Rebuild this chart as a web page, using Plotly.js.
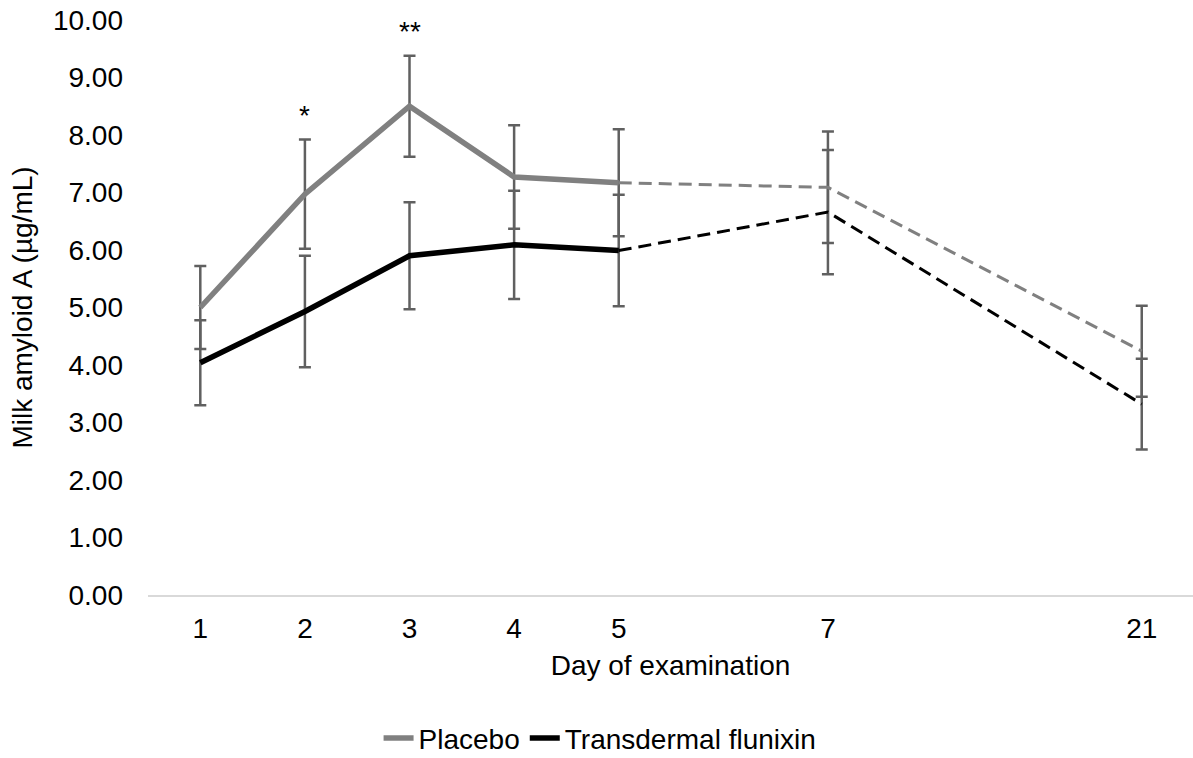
<!DOCTYPE html>
<html>
<head>
<meta charset="utf-8">
<script src="https://cdn.plot.ly/plotly-3.0.1.min.js"></script>
<style>
  html, body { margin: 0; padding: 0; background: #fff; }
  #chart { width: 1193px; height: 758px; }
</style>
</head>
<body>
<div id="chart"></div>
<script>
// Examination days and their slot on the category axis (gaps for days not sampled)
const dayLabels = ['1', '2', '3', '4', '5', '7', '21'];
const daySlots = [0, 1, 2, 3, 4, 6, 9];

// Milk amyloid A, mean and error (µg/mL)
const placeboMean = [5.00, 6.97, 8.50, 7.27, 7.17, 7.09, 4.24];
const placeboErr  = [0.72, 0.95, 0.88, 0.90, 0.93, 0.97, 0.79];
const flunixinMean = [4.04, 4.93, 5.90, 6.09, 5.99, 6.66, 3.32];
const flunixinErr  = [0.74, 0.97, 0.93, 0.94, 0.97, 1.08, 0.79];

// Significance markers above the placebo error bars
const sigIndex = [1, 2];
const sigText = ['*', '**'];

const FONT = 'Liberation Sans, Arial, sans-serif';
const FS = 28;
const GREY = '#808080';
const BLACK = '#000000';
const ERR_COLOR = '#606060';

const lastSolid = 4; // days 1-5 drawn solid, later days dashed

function errTrace(mean, err) {
  return {
    x: daySlots, y: mean, type: 'scatter', mode: 'markers',
    marker: { size: 1, opacity: 0 },
    error_y: { type: 'data', array: err, visible: true, color: ERR_COLOR, thickness: 2.5, width: 6 },
    showlegend: false, hoverinfo: 'skip'
  };
}

function lineTrace(name, mean, color, solid) {
  const xs = solid ? daySlots.slice(0, lastSolid + 1) : daySlots.slice(lastSolid);
  const ys = solid ? mean.slice(0, lastSolid + 1) : mean.slice(lastSolid);
  return {
    x: xs, y: ys, type: 'scatter', mode: 'lines', name: name,
    line: solid ? { color: color, width: 5.5 } : { color: color, width: 3, dash: '13px,7px' },
    showlegend: solid
  };
}

const traces = [
  errTrace(placeboMean, placeboErr),
  errTrace(flunixinMean, flunixinErr),
  lineTrace('Placebo', placeboMean, GREY, false),
  lineTrace('Transdermal flunixin', flunixinMean, BLACK, false),
  lineTrace('Placebo', placeboMean, GREY, true),
  lineTrace('Transdermal flunixin', flunixinMean, BLACK, true)
];

const annotations = sigIndex.map((i, k) => ({
  x: daySlots[i], y: placeboMean[i] + placeboErr[i] + 0.42,
  xref: 'x', yref: 'y', text: sigText[k], showarrow: false,
  yanchor: 'middle', font: { family: FONT, size: FS, color: '#000' }
}));

const layout = {
  width: 1193, height: 758,
  margin: { l: 148, r: 0, t: 20, b: 163 },
  paper_bgcolor: '#fff', plot_bgcolor: '#fff',
  font: { family: FONT, size: FS, color: '#000' },
  xaxis: {
    range: [-0.5, 9.49],
    tickvals: daySlots, ticktext: dayLabels,
    showgrid: false, zeroline: false,
    showline: true, linecolor: '#d9d9d9', linewidth: 1.5,
    ticks: '', ticklabelstandoff: 8,
    tickfont: { family: FONT, size: FS, color: '#000' },
    title: { text: 'Day of examination', font: { family: FONT, size: FS, color: '#000' }, standoff: 12 }
  },
  yaxis: {
    range: [0, 10], dtick: 1, tick0: 0, tickformat: '.2f',
    showgrid: false, zeroline: false, showline: false,
    ticks: '', ticklabelstandoff: 24,
    tickfont: { family: FONT, size: FS, color: '#000' },
    title: { text: 'Milk amyloid A (µg/mL)', font: { family: FONT, size: FS, color: '#000' }, standoff: 12 }
  },
  legend: {
    orientation: 'h', xref: 'container', yref: 'container',
    x: 0.503, xanchor: 'center', y: 0.026, yanchor: 'middle',
    font: { family: FONT, size: FS, color: '#000' },
    traceorder: 'normal', itemwidth: 30
  },
  annotations: annotations,
  showlegend: true
};

Plotly.newPlot('chart', traces, layout, { displayModeBar: false, staticPlot: true });
</script>
</body>
</html>
